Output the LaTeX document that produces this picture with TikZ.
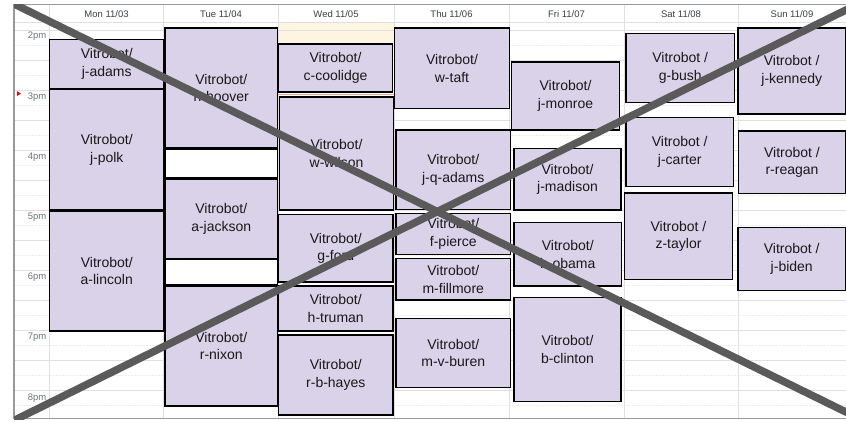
\documentclass[tikz,border=0pt]{standalone}
\usepackage{fontspec}
\setmainfont{Liberation Sans}
\definecolor{evfill}{HTML}{D9D2E9}
\definecolor{gridsolid}{HTML}{E0E0E0}
\definecolor{griddash}{HTML}{EDEDED}
\definecolor{framegray}{HTML}{9A9A9A}
\definecolor{headtext}{HTML}{3C4043}
\definecolor{timetext}{HTML}{70757A}
\definecolor{creamfill}{HTML}{FDF5E2}
\definecolor{nowline}{HTML}{F2A98C}
\definecolor{xgray}{HTML}{5A5A5A}
\tikzset{
  evbox/.style={draw=black, line width=1.6pt, fill=evfill, inner sep=0pt, outer sep=0pt,
    align=center, font=\fontsize{14}{17.7}\selectfont, text=black!90},
  gapbox/.style={draw=black, line width=1.6pt, fill=white, inner sep=0pt, outer sep=0pt},
  dayhead/.style={font=\fontsize{9.5}{11}\selectfont, text=headtext, inner sep=0pt},
  hourlab/.style={font=\fontsize{9.5}{11}\selectfont, text=timetext, inner sep=0pt, anchor=east},
  bigx/.style={draw=xgray, line width=7.5pt, line cap=butt}
}
\newcommand{\evt}[6]{\node[evbox, minimum width={(#4-#2)*1pt}, minimum height={(#5-#3)*1pt}] (#1) at ({(#2+#4)/2},{(#3+#5)/2}) {#6};}
\newcommand{\gapb}[5]{\node[gapbox, minimum width={(#4-#2)*1pt}, minimum height={(#5-#3)*1pt}] (#1) at ({(#2+#4)/2},{(#3+#5)/2}) {};}
\begin{document}
\begin{tikzpicture}[x=1pt,y=-1pt]
\useasboundingbox (0,0) rectangle (846,422);
\fill[white] (0,0) rectangle (846,422);
% cream highlight in today's column
\fill[creamfill] (278,23) rectangle (393.5,43);
% grid lines
\foreach \k in {0,...,12} {
  \pgfmathsetmacro{\ys}{30+30*\k}
  \draw[gridsolid, line width=0.8pt] (14,\ys) -- (846,\ys);
}
\foreach \k in {0,...,12} {
  \pgfmathsetmacro{\yd}{45+30*\k}
  \draw[griddash, line width=0.8pt, dash pattern=on 2pt off 1pt] (14,\yd) -- (846,\yd);
}
\foreach \xv in {49,163.5,278,394,509,624,738} {
  \draw[gridsolid, line width=0.8pt] (\xv,4.7) -- (\xv,418);
}
\draw[gridsolid, line width=0.8pt] (14,22.7) -- (846,22.7);
% frame
\draw[framegray, line width=1.3pt] (846,4.7) -- (14,4.7) -- (14,418.5) -- (846,418.5);
% headers
\node[dayhead] (hmon) at (106.5,14) {Mon 11/03};
\node[dayhead] (htue) at (221,14) {Tue 11/04};
\node[dayhead] (hwed) at (336,14) {Wed 11/05};
\node[dayhead] (hthu) at (451.5,14) {Thu 11/06};
\node[dayhead] (hfri) at (566.5,14) {Fri 11/07};
\node[dayhead] (hsat) at (681,14) {Sat 11/08};
\node[dayhead] (hsun) at (792,14) {Sun 11/09};
% hour labels
\node[hourlab] (t2) at (46.5,35.7) {2pm};
\node[hourlab] (t3) at (46.5,96.7) {3pm};
\node[hourlab] (t4) at (46.5,157) {4pm};
\node[hourlab] (t5) at (46.5,217.3) {5pm};
\node[hourlab] (t6) at (46.5,277.5) {6pm};
\node[hourlab] (t7) at (46.5,337.7) {7pm};
\node[hourlab] (t8) at (46.5,398) {8pm};
% current time marker
\fill[red] (17.2,91.3) -- (21,93.6) -- (17.2,95.9) -- cycle;
\draw[nowline, line width=1pt] (278,94.3) -- (393.5,94.3);
% Monday
\evt{jadams}{49.5}{39.5}{164}{88.5}{Vitrobot/\\j-adams}
\evt{jpolk}{49.5}{89.5}{164}{210}{Vitrobot/\\j-polk}
\evt{alincoln}{49.5}{211}{164}{331}{Vitrobot/\\a-lincoln}
% Tuesday
\evt{hhoover}{165}{28}{277.5}{148}{Vitrobot/\\h-hoover}
\gapb{gapa}{165}{149}{277.5}{178}
\evt{ajackson}{165}{179}{277.5}{258.5}{Vitrobot/\\a-jackson}
\gapb{gapb}{165}{259.5}{277.5}{285}
\evt{rnixon}{165}{286}{277.5}{406}{Vitrobot/\\r-nixon}
% Wednesday
\evt{ccoolidge}{278.5}{44}{392.5}{92}{Vitrobot/\\c-coolidge}
\evt{wwilson}{279.5}{97}{393.5}{210}{Vitrobot/\\w-wilson}
\evt{gford}{278.5}{214.5}{393}{282}{Vitrobot/\\g-ford}
\evt{htruman}{278.5}{286}{393}{331}{Vitrobot/\\h-truman}
\evt{rbhayes}{278.5}{335}{393}{415}{Vitrobot/\\r-b-hayes}
% Thursday
\evt{wtaft}{394.5}{28}{509.5}{108.5}{Vitrobot/\\w-taft}
\evt{jqadams}{396}{130}{510.5}{209.5}{Vitrobot/\\j-q-adams}
\evt{fpierce}{396}{213.5}{510.5}{254.5}{Vitrobot/\\f-pierce}
\evt{mfillmore}{396}{258.5}{510.5}{300}{Vitrobot/\\m-fillmore}
\evt{mvburen}{396}{318.5}{510.5}{387.5}{Vitrobot/\\m-v-buren}
% Friday
\evt{jmonroe}{511.5}{62}{619.5}{130}{Vitrobot/\\j-monroe}
\evt{jmadison}{514}{148.5}{621}{210}{Vitrobot/\\j-madison}
\evt{bobama}{514}{222.7}{621.5}{286}{Vitrobot/\\b-obama}
\evt{bclinton}{514}{297.5}{621}{401.5}{Vitrobot/\\b-clinton}
% Saturday
\evt{gbush}{626}{33.5}{734.5}{102.5}{Vitrobot /\\g-bush}
\evt{jcarter}{626}{117.5}{733.5}{186.5}{Vitrobot /\\j-carter}
\evt{ztaylor}{624.5}{193.3}{732.5}{279.5}{Vitrobot /\\z-taylor}
% Sunday
\evt{jkennedy}{738}{28}{845.5}{114}{Vitrobot /\\j-kennedy}
\evt{rreagan}{738.5}{131}{845.5}{193.5}{Vitrobot /\\r-reagan}
\evt{jbiden}{738}{227.5}{845.5}{290.5}{Vitrobot /\\j-biden}
% big X
\coordinate (xa1) at (10,2);
\coordinate (xa2) at (850,414);
\coordinate (xb1) at (10,422.4);
\coordinate (xb2) at (850,8);
\begin{scope}
\clip (14,4.7) rectangle (846,419);
\draw[bigx] (xa1) -- (xa2);
\draw[bigx] (xb1) -- (xb2);
\end{scope}
\end{tikzpicture}
\end{document}
